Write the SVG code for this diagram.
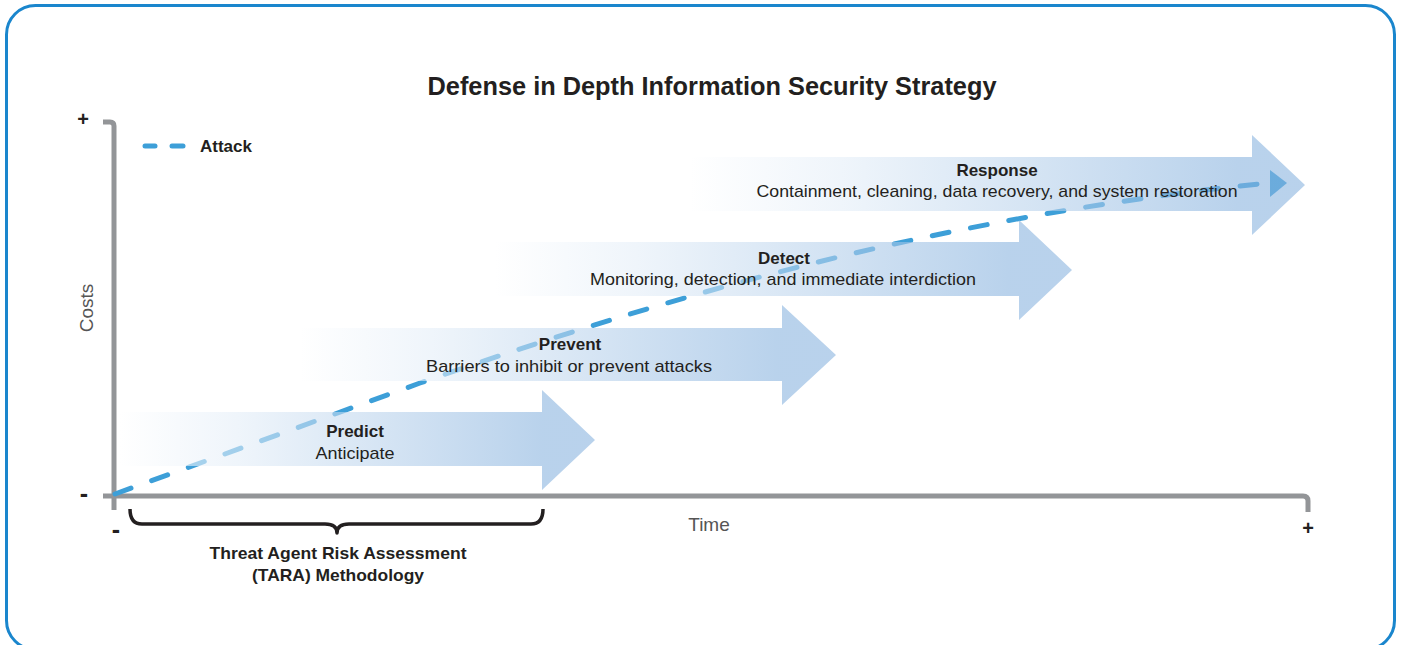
<svg xmlns="http://www.w3.org/2000/svg" width="1401" height="645" viewBox="0 0 1401 645">
<defs>
<linearGradient id="bandGrad" x1="0" y1="0" x2="1" y2="0">
<stop offset="0" stop-color="#ffffff"/>
<stop offset="0.25" stop-color="#e4eef8"/>
<stop offset="0.89" stop-color="#8ab4df"/>
<stop offset="1" stop-color="#8ab4df"/>
</linearGradient>
<style>
.t{font-family:"Liberation Sans",Arial,sans-serif;fill:#231f20;}
.b{font-weight:bold;font-size:17px;}
.r{font-size:17px;}
.axis{fill:none;stroke:#939598;stroke-width:5;stroke-linejoin:round;}
.band{fill:url(#bandGrad);fill-opacity:0.6;}
.atk{fill:none;stroke:#3d9fd8;stroke-width:5;stroke-linecap:round;}
.sign{font-family:"Liberation Sans",Arial,sans-serif;font-weight:bold;font-size:20px;fill:#231f20;text-anchor:middle;}
.minus{font-family:"Liberation Sans",Arial,sans-serif;font-weight:bold;font-size:25px;fill:#231f20;text-anchor:middle;}
.lab{font-family:"Liberation Sans",Arial,sans-serif;font-size:19px;fill:#555555;}
</style>
</defs>
<rect x="6.5" y="5.5" width="1388" height="644" rx="29" fill="#ffffff" stroke="#1a86cd" stroke-width="3"/>
<text class="t" x="712" y="95" text-anchor="middle" font-size="26" font-weight="bold" textLength="569" lengthAdjust="spacingAndGlyphs">Defense in Depth Information Security Strategy</text>

<g id="axes">
<path class="axis" d="M103,122 H110 Q114,122 114,126 V510"/>
<path class="axis" d="M103,496 H1303 Q1308,496 1308,501 V512"/>
<text class="sign" x="83" y="126">+</text>
<text class="minus" x="84" y="502">-</text>
<text class="minus" x="116" y="538">-</text>
<text class="sign" x="1308" y="535">+</text>
<text class="lab" transform="translate(93,308) rotate(-90)" text-anchor="middle" font-size="20">Costs</text>
<text class="lab" x="709" y="531" text-anchor="middle">Time</text>
</g>

<g id="legend">
<line class="atk" x1="145" y1="146" x2="155" y2="146"/>
<line class="atk" x1="172" y1="146" x2="183" y2="146"/>
<text class="t b" x="200" y="152">Attack</text>
</g>

<g id="connectors">
<path id="attack-line" class="atk" stroke-dasharray="17 22" d="M115,494 L420,383 C700,285 960,215 1268,183"/>
<polygon points="1270,170 1287,183 1270,197" fill="#3d9fd8"/>
</g>

<g id="predict">
<path class="band" d="M120,412 H542 V390 L595,440 L542,490 V466 H120 Z"/>
<text class="t b" x="355" y="437" text-anchor="middle">Predict</text>
<text class="t r" x="355" y="459" text-anchor="middle" textLength="79" lengthAdjust="spacingAndGlyphs">Anticipate</text>
</g>

<g id="prevent">
<path class="band" d="M300,328 H782 V305 L836,355 L782,405 V381 H300 Z"/>
<text class="t b" x="570" y="350" text-anchor="middle">Prevent</text>
<text class="t r" x="569" y="372" text-anchor="middle" textLength="286" lengthAdjust="spacingAndGlyphs">Barriers to inhibit or prevent attacks</text>
</g>

<g id="detect">
<path class="band" d="M495,242 H1019 V220 L1072,270 L1019,320 V296 H495 Z"/>
<text class="t b" x="784" y="264" text-anchor="middle">Detect</text>
<text class="t r" x="783" y="285" text-anchor="middle" textLength="386" lengthAdjust="spacingAndGlyphs">Monitoring, detection, and immediate interdiction</text>
</g>

<g id="response">
<path class="band" d="M690,157 H1252 V135 L1305,185 L1252,235 V211 H690 Z"/>
<text class="t b" x="997" y="176" text-anchor="middle">Response</text>
<text class="t r" x="997" y="197" text-anchor="middle" textLength="481" lengthAdjust="spacingAndGlyphs">Containment, cleaning, data recovery, and system restoration</text>
</g>

<g id="tara">
<path d="M130,509 Q130,524 142,524 L325,524 Q337,524 337,533 Q337,524 349,524 L531,524 Q543,524 543,509" fill="none" stroke="#231f20" stroke-width="3.5" stroke-linejoin="round"/>
<text class="t b" x="338" y="559" text-anchor="middle" textLength="257" lengthAdjust="spacingAndGlyphs">Threat Agent Risk Assessment</text>
<text class="t b" x="338" y="581" text-anchor="middle" textLength="172" lengthAdjust="spacingAndGlyphs">(TARA) Methodology</text>
</g>
</svg>
